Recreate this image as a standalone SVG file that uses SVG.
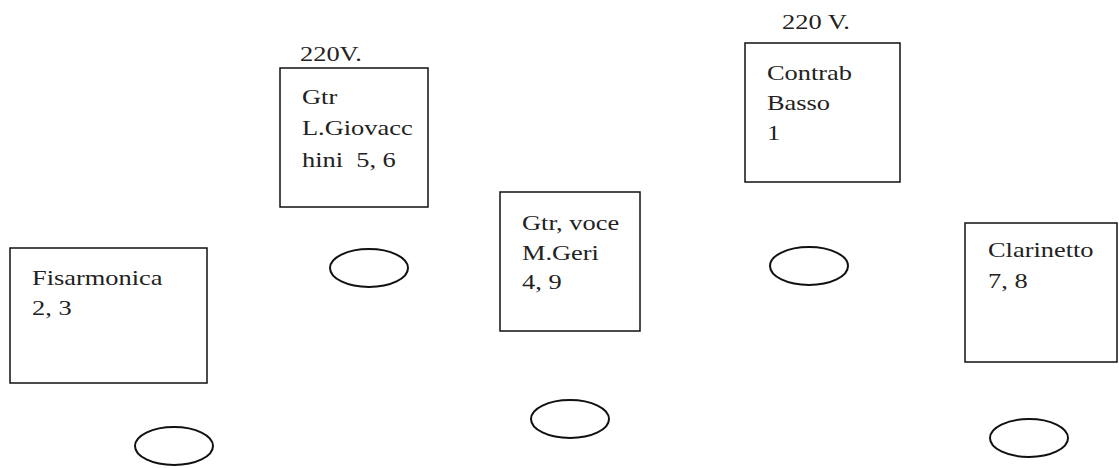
<svg xmlns="http://www.w3.org/2000/svg" width="1119" height="468" viewBox="0 0 1119 468">
  <style>
    .box { fill: #fff; stroke: #111; stroke-width: 1.5; }
    .spot { fill: none; stroke: #111; stroke-width: 2; }
    .lbl { font-family: "Liberation Serif", "Times New Roman", serif; font-size: 22px; fill: #222; }
  </style>
  <rect width="1119" height="468" fill="#fff"/>

  <g id="fisarmonica">
    <rect class="box" x="10" y="248" width="197" height="135"/>
    <text class="lbl" transform="translate(32 285) scale(1.2 1)"><tspan x="0" y="0">Fisarmonica</tspan><tspan x="0" y="30">2, 3</tspan></text>
    <ellipse class="spot" cx="174" cy="446" rx="39" ry="19"/>
  </g>

  <g id="gtr-giovacchini">
    <text class="lbl" transform="translate(300 61) scale(1.2 1)">220V.</text>
    <rect class="box" x="280" y="68" width="148" height="139"/>
    <text class="lbl" transform="translate(302 104) scale(1.2 1)"><tspan x="0" y="0">Gtr</tspan><tspan x="0" y="31.5">L.Giovacc</tspan><tspan x="0" y="63" xml:space="preserve">hini  5, 6</tspan></text>
    <ellipse class="spot" cx="369" cy="268" rx="39" ry="19"/>
  </g>

  <g id="gtr-voce-geri">
    <rect class="box" x="500" y="192" width="140" height="139"/>
    <text class="lbl" transform="translate(522 230) scale(1.2 1)"><tspan x="0" y="0">Gtr, voce</tspan><tspan x="0" y="30">M.Geri</tspan><tspan x="0" y="59">4, 9</tspan></text>
    <ellipse class="spot" cx="570" cy="419" rx="39" ry="19"/>
  </g>

  <g id="contrabbasso">
    <text class="lbl" transform="translate(782 29) scale(1.2 1)">220 V.</text>
    <rect class="box" x="745" y="43" width="155" height="139"/>
    <text class="lbl" transform="translate(767 80) scale(1.2 1)"><tspan x="0" y="0">Contrab</tspan><tspan x="0" y="30">Basso</tspan><tspan x="0" y="60">1</tspan></text>
    <ellipse class="spot" cx="809" cy="266" rx="39" ry="19"/>
  </g>

  <g id="clarinetto">
    <rect class="box" x="965" y="223" width="152" height="139"/>
    <text class="lbl" transform="translate(988 257) scale(1.2 1)"><tspan x="0" y="0">Clarinetto</tspan><tspan x="0" y="31">7, 8</tspan></text>
    <ellipse class="spot" cx="1029" cy="438" rx="39" ry="19"/>
  </g>

  <g id="connectors"/>
</svg>
